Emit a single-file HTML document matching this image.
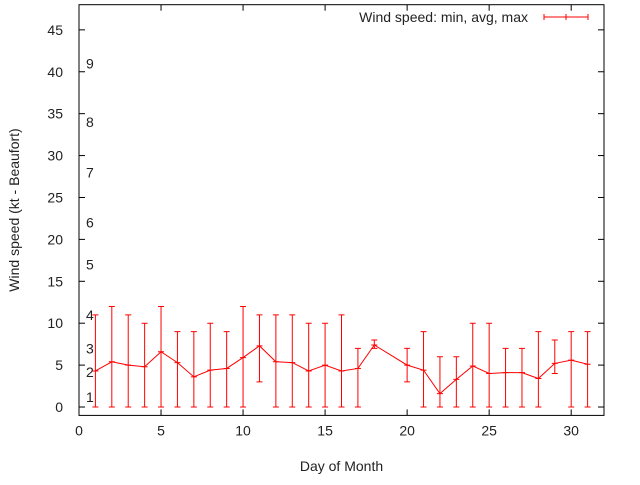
<!DOCTYPE html>
<html><head><meta charset="utf-8"><style>
body{margin:0;background:#fff;}
svg text{font-family:"Liberation Sans",sans-serif;font-size:14px;fill:#222;}
</style></head><body>
<svg id="chart" width="640" height="480"></svg>
<script>
const days=[1,2,3,4,5,6,7,8,9,10,11,12,13,14,15,16,17,18,20,21,22,23,24,25,26,27,28,29,30,31];
const avgVals=[4.3,5.4,5.0,4.8,6.6,5.3,3.6,4.4,4.6,5.9,7.3,5.4,5.3,4.3,5.0,4.3,4.6,7.4,5.0,4.4,1.6,3.3,4.9,4.0,4.1,4.1,3.4,5.2,5.6,5.1];
const minVals=[0,0,0,0,0,0,0,0,0,0,3,0,0,0,0,0,0,7,3,0,0,0,0,0,0,0,0,4,0,0];
const maxVals=[11,12,11,10,12,9,9,10,9,12,11,11,11,10,10,11,7,8,7,9,6,6,10,10,7,7,9,8,9,9];
const xTicks=[0,5,10,15,20,25,30];
const yTicks=[0,5,10,15,20,25,30,35,40,45];
const beaufort=[[1,1.2],[2,4.2],[3,7.0],[4,11.0],[5,17.0],[6,22.0],[7,28.0],[8,34.0],[9,41.0]];
const L=79,R=604,T=4.7,B=415.4,xMin=0,xMax=32,yMin=-1,yMax=48;
const X=v=>L+(v-xMin)/(xMax-xMin)*(R-L);
const Y=v=>B-(v-yMin)/(yMax-yMin)*(B-T);
const svg=document.getElementById('chart');const NS='http://www.w3.org/2000/svg';
function mk(t,a,p){const e=document.createElementNS(NS,t);for(const k in a)e.setAttribute(k,a[k]);(p||svg).appendChild(e);return e;}
const frame=mk('rect',{x:L,y:T,width:R-L,height:B-T,fill:'none',stroke:'#000','stroke-width':1});


xTicks.forEach(v=>{const x=X(v);
mk('line',{x1:x,x2:x,y1:B,y2:B-6,stroke:'#000'});mk('line',{x1:x,x2:x,y1:T,y2:T+6,stroke:'#000'});
const t=mk('text',{x:x,y:B+20,'text-anchor':'middle'});t.textContent=v;

});
yTicks.forEach(v=>{const y=Y(v);
mk('line',{x1:L,x2:L+6,y1:y,y2:y,stroke:'#000'});mk('line',{x1:R,x2:R-6,y1:y,y2:y,stroke:'#000'});
const t=mk('text',{x:L-16,y:y+5,'text-anchor':'end'});t.textContent=v;

});
beaufort.forEach(b=>{const t=mk('text',{x:86,y:Y(b[1])+5});t.textContent=b[0];

});
const xt=mk('text',{x:(L+R)/2,y:471,'text-anchor':'middle'});xt.textContent='Day of Month';


const yt=mk('text',{x:19,y:210,'text-anchor':'middle',transform:'rotate(-90 19 210)'});yt.textContent='Wind speed (kt - Beaufort)';


const g=mk('g',{stroke:'#f00','stroke-width':1,fill:'none'});


days.forEach((d,i)=>{const x=X(d);
const b=mk('path',{d:`M${x},${Y(minVals[i])}V${Y(maxVals[i])}M${x-3},${Y(minVals[i])}h6M${x-3},${Y(maxVals[i])}h6M${x-3},${Y(avgVals[i])}h6`},g);

});
const ln=mk('polyline',{points:days.map((d,i)=>X(d)+','+Y(avgVals[i])).join(' ')},g);


const lt=mk('text',{x:528,y:22,'text-anchor':'end'});lt.textContent='Wind speed: min, avg, max';


const ls=mk('path',{d:'M544,17H588M544,14v6M588,14v6M566,14v6',stroke:'#f00',fill:'none'});


</script>
</body></html>
